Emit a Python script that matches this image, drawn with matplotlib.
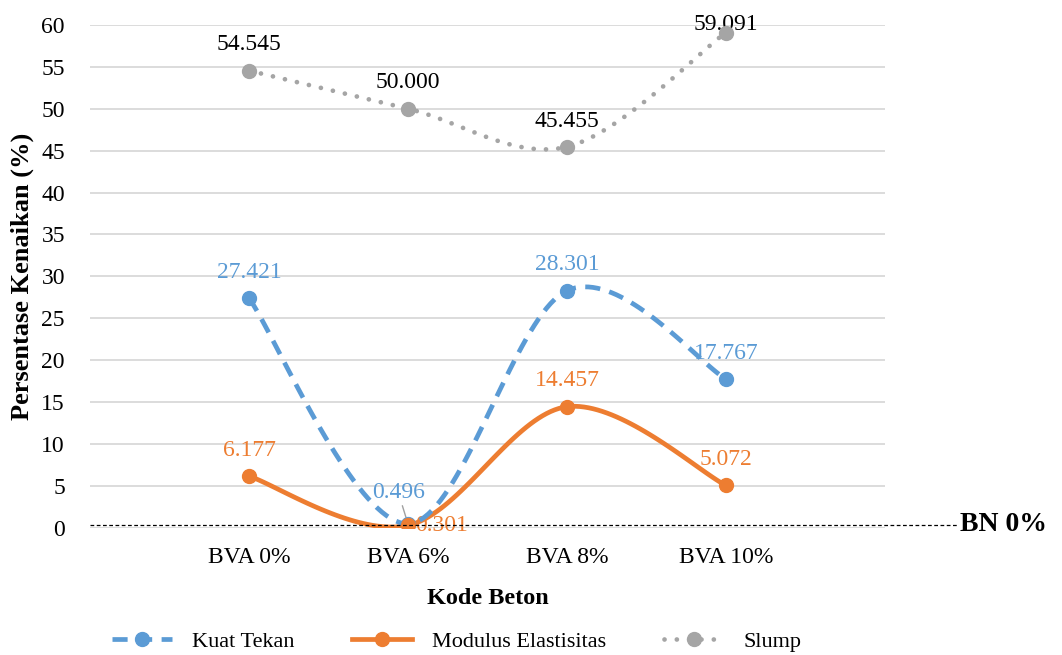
import numpy as np
import matplotlib
matplotlib.use("Agg")
import matplotlib.pyplot as plt
from matplotlib.lines import Line2D

plt.rcParams['font.family'] = ['Liberation Serif', 'DejaVu Serif']

categories = ['BVA 0%', 'BVA 6%', 'BVA 8%', 'BVA 10%']
kuat_tekan = [27.421, 0.496, 28.301, 17.767]
modulus = [6.177, 0.301, 14.457, 5.072]
slump = [54.545, 50.000, 45.455, 59.091]
bn_level = 0.4

c_blue = '#5B9BD5'
c_orange = '#ED7D31'
c_gray = '#A5A5A5'


def smooth(xs, ys, n=40):
    # excel-like smoothed line (cardinal bezier through points)
    xs = np.asarray(xs, float)
    ys = np.asarray(ys, float)
    px, py = [], []
    for i in range(len(xs) - 1):
        i0 = max(i - 1, 0)
        i3 = min(i + 2, len(xs) - 1)
        p0 = np.array([xs[i0], ys[i0]])
        p1 = np.array([xs[i], ys[i]])
        p2 = np.array([xs[i + 1], ys[i + 1]])
        p3 = np.array([xs[i3], ys[i3]])
        c1 = p1 + (p2 - p0) / 6
        c2 = p2 - (p3 - p1) / 6
        t = np.linspace(0, 1, n)[:, None]
        pts = ((1 - t) ** 3) * p1 + 3 * ((1 - t) ** 2) * t * c1 + 3 * (1 - t) * t ** 2 * c2 + t ** 3 * p2
        px.extend(pts[:, 0])
        py.extend(pts[:, 1])
    return np.array(px), np.array(py)


fig = plt.figure(figsize=(10.62, 6.55), dpi=100)
ax = fig.add_axes([0.0847, 0.194, 0.7486, 0.768])

x = np.arange(len(categories))
lw = 3.4
ms = 10

sx, sy = smooth(x, kuat_tekan)
ax.plot(sx, sy, color=c_blue, lw=lw, ls=(0, (3.2, 2.0)), zorder=4)
ax.plot(x, kuat_tekan, 'o', color=c_blue, ms=ms, zorder=5)

sx, sy = smooth(x, modulus)
ax.plot(sx, sy, color=c_orange, lw=lw, solid_capstyle='round', zorder=3)
ax.plot(x, modulus, 'o', color=c_orange, ms=ms, zorder=5)

sx, sy = smooth(x, slump)
ax.plot(sx, sy, color=c_gray, lw=lw, ls=(0, (0.01, 2.6)), dash_capstyle='round', zorder=3)
ax.plot(x, slump, 'o', color=c_gray, ms=ms, zorder=5)

fs = 17
for i, v in enumerate(slump):
    dy = -2 if i == 3 else 11
    ax.annotate(f'{v:.3f}', (x[i], v), xytext=(0, dy), textcoords='offset points',
                ha='center', va='bottom', fontsize=fs, color='black')
for i, v in enumerate(kuat_tekan):
    if i == 1:
        ax.annotate(f'{v:.3f}', (x[i], v), xytext=(-7, 15), textcoords='offset points',
                    ha='center', va='bottom', fontsize=fs, color=c_blue,
                    arrowprops=dict(arrowstyle='-', color='#A0A0A0', lw=1, shrinkA=0, shrinkB=2))
    else:
        ax.annotate(f'{v:.3f}', (x[i], v), xytext=(0, 11), textcoords='offset points',
                    ha='center', va='bottom', fontsize=fs, color=c_blue)
for i, v in enumerate(modulus):
    if i == 1:
        ax.annotate(f'{v:.3f}', (x[i], v), xytext=(5, 0), textcoords='offset points',
                    ha='left', va='center', fontsize=fs, color=c_orange)
    else:
        ax.annotate(f'{v:.3f}', (x[i], v), xytext=(0, 11), textcoords='offset points',
                    ha='center', va='bottom', fontsize=fs, color=c_orange)

# BN 0% reference line
ax.plot([-1, 4.45], [bn_level, bn_level], color='black', lw=0.9, ls=(0, (3, 2)),
        clip_on=False, zorder=6)
ax.text(4.47, bn_level, 'BN 0%', fontsize=20, fontweight='bold', ha='left', va='center')

ax.set_xlim(-1, 4)
ax.set_ylim(0, 60)
ax.set_yticks(np.arange(0, 61, 5))
ax.set_xticks(x)
ax.set_xticklabels(categories)
ax.tick_params(axis='both', length=0, labelsize=17)
ax.tick_params(axis='y', pad=18)
ax.tick_params(axis='x', pad=14)
ax.grid(axis='y', color='#D9D9D9', lw=1.3)
ax.set_axisbelow(True)
for s in ax.spines.values():
    s.set_visible(False)

ax.set_ylabel('Persentase Kenaikan (%)', fontsize=19, fontweight='bold', labelpad=5)
ax.set_xlabel('Kode Beton', fontsize=17.5, fontweight='bold', labelpad=14)

handles = [
    Line2D([], [], color=c_blue, lw=lw, ls=(0, (3.2, 2.0)), marker='o', ms=ms),
    Line2D([], [], color=c_orange, lw=lw, marker='o', ms=ms),
    Line2D([], [], color=c_gray, lw=lw, ls=(0, (0.01, 2.6)), dash_capstyle='round', marker='o', ms=ms),
]
fig.legend(handles, ['Kuat Tekan', 'Modulus Elastisitas', 'Slump'], loc='lower center',
           bbox_to_anchor=(0.43, -0.026), ncol=3, frameon=False, fontsize=16,
           handlelength=2.7, columnspacing=2.6, handletextpad=0.9)

fig.savefig('out.png', dpi=100)
